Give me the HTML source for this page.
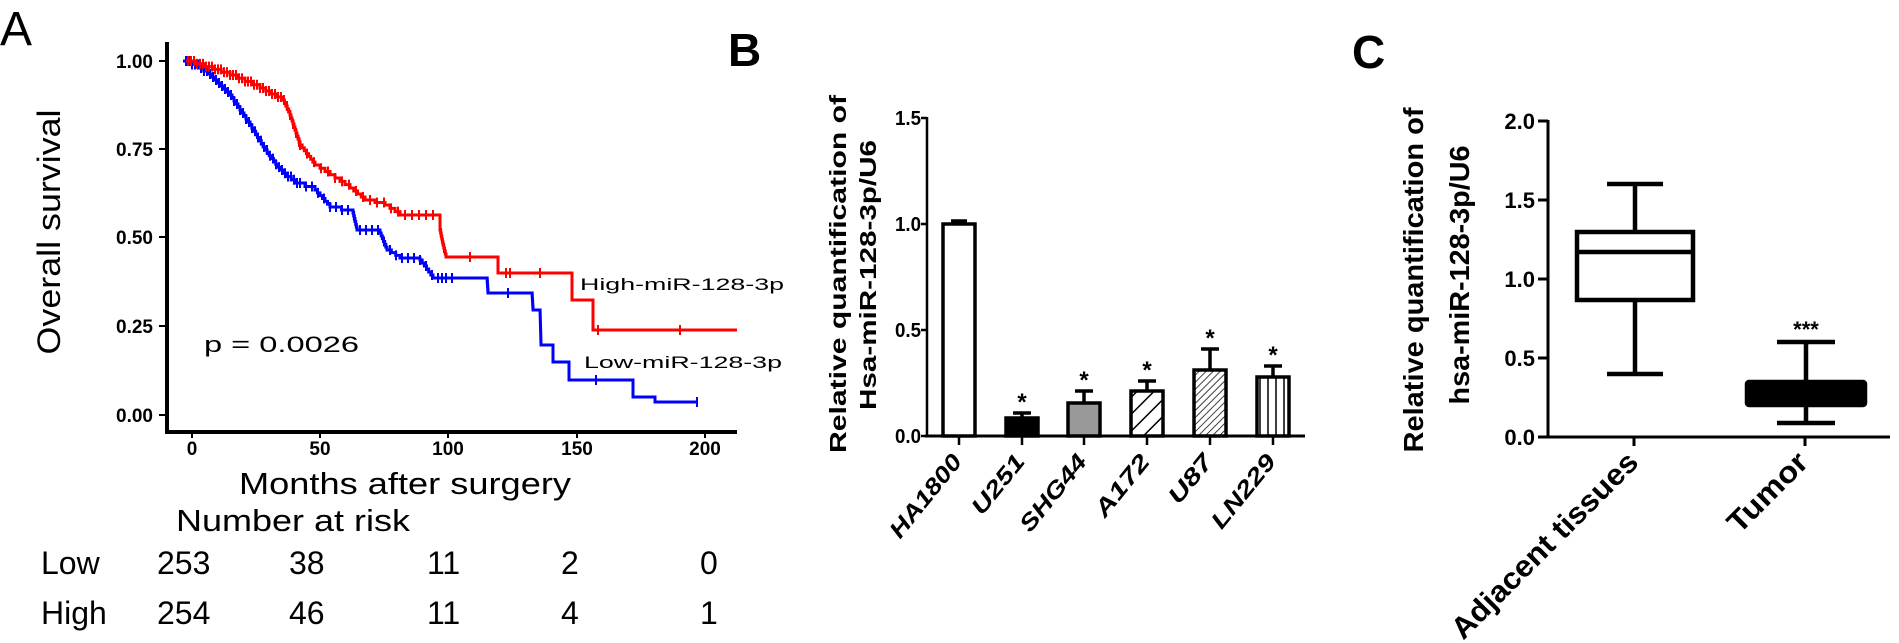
<!DOCTYPE html>
<html><head><meta charset="utf-8"><style>
html,body{margin:0;padding:0;background:#fff;}
svg{display:block;font-family:"Liberation Sans",Arial,sans-serif;}
</style></head><body>
<svg id="s" width="1899" height="643" viewBox="0 0 1899 643" xmlns="http://www.w3.org/2000/svg">
<defs>
<pattern id="h1" patternUnits="userSpaceOnUse" width="12" height="12" patternTransform="rotate(45)"><rect width="12" height="12" fill="#fff"/><line x1="0" y1="0" x2="0" y2="12" stroke="#000" stroke-width="3"/></pattern>
<pattern id="h2" patternUnits="userSpaceOnUse" width="5" height="5" patternTransform="rotate(45)"><rect width="5" height="5" fill="#fff"/><line x1="0" y1="0" x2="0" y2="5" stroke="#000" stroke-width="1.5"/></pattern>
<pattern id="h3" patternUnits="userSpaceOnUse" width="8" height="8"><rect width="8" height="8" fill="#fff"/><line x1="4" y1="0" x2="4" y2="8" stroke="#000" stroke-width="1.5"/></pattern>
</defs>
<rect width="1899" height="643" fill="#fff"/>
<!-- Panel A -->
<text x="0" y="45" font-size="48">A</text>
<text transform="translate(60,232) rotate(-90)" text-anchor="middle" font-size="32" textLength="245" lengthAdjust="spacingAndGlyphs">Overall survival</text>
<g font-size="19" font-weight="bold" text-anchor="end">
<text x="153" y="68">1.00</text><text x="153" y="156">0.75</text><text x="153" y="244">0.50</text><text x="153" y="333">0.25</text><text x="153" y="422">0.00</text>
</g>
<g stroke="#000" stroke-width="2">
<line x1="159" y1="61" x2="167" y2="61"/><line x1="159" y1="149" x2="167" y2="149"/><line x1="159" y1="237" x2="167" y2="237"/><line x1="159" y1="326" x2="167" y2="326"/><line x1="159" y1="415" x2="167" y2="415"/>
<line x1="192" y1="432" x2="192" y2="438"/><line x1="320" y1="432" x2="320" y2="438"/><line x1="448" y1="432" x2="448" y2="438"/><line x1="577" y1="432" x2="577" y2="438"/><line x1="705" y1="432" x2="705" y2="438"/>
</g>
<line x1="167" y1="42" x2="167" y2="434" stroke="#000" stroke-width="4"/>
<line x1="165" y1="432" x2="737" y2="432" stroke="#000" stroke-width="4"/>
<g font-size="19" font-weight="bold" text-anchor="middle">
<text x="192" y="455">0</text><text x="320" y="455">50</text><text x="448" y="455">100</text><text x="577" y="455">150</text><text x="705" y="455">200</text>
</g>
<g id="km" fill="none" stroke-width="3"></g>
<text x="204" y="352" font-size="22" textLength="155" lengthAdjust="spacingAndGlyphs">p = 0.0026</text>
<text x="580" y="290" font-size="17" textLength="204" lengthAdjust="spacingAndGlyphs">High-miR-128-3p</text>
<text x="584" y="368" font-size="17" textLength="198" lengthAdjust="spacingAndGlyphs">Low-miR-128-3p</text>
<text x="239" y="494" font-size="31" textLength="332" lengthAdjust="spacingAndGlyphs">Months after surgery</text>
<text x="176" y="531" font-size="31" textLength="234" lengthAdjust="spacingAndGlyphs">Number at risk</text>
<g font-size="32">
<text x="41" y="574">Low</text><text x="157" y="574">253</text><text x="289" y="574">38</text><text x="427" y="574">11</text><text x="561" y="574">2</text><text x="700" y="574">0</text>
<text x="41" y="624">High</text><text x="157" y="624">254</text><text x="289" y="624">46</text><text x="427" y="624">11</text><text x="561" y="624">4</text><text x="700" y="624">1</text>
</g>
<!-- Panel B -->
<text x="728" y="66" font-size="46" font-weight="bold">B</text>
<g font-weight="bold" font-size="23">
<text transform="translate(846,274) rotate(-90)" text-anchor="middle" textLength="358" lengthAdjust="spacingAndGlyphs">Relative quantification of</text>
<text transform="translate(876,275) rotate(-90)" text-anchor="middle" textLength="270" lengthAdjust="spacingAndGlyphs">Hsa-miR-128-3p/U6</text>
</g>
<g font-size="20" font-weight="bold" text-anchor="end">
<text x="921" y="125" textLength="26" lengthAdjust="spacingAndGlyphs">1.5</text><text x="921" y="231" textLength="26" lengthAdjust="spacingAndGlyphs">1.0</text><text x="921" y="337" textLength="26" lengthAdjust="spacingAndGlyphs">0.5</text><text x="921" y="443" textLength="26" lengthAdjust="spacingAndGlyphs">0.0</text>
</g>
<g stroke="#000" stroke-width="2.5" fill="none">
<line x1="927" y1="117" x2="927" y2="437"/>
<line x1="921" y1="118" x2="927" y2="118"/><line x1="921" y1="224" x2="927" y2="224"/><line x1="921" y1="330" x2="927" y2="330"/><line x1="921" y1="436" x2="927" y2="436"/>
<line x1="925" y1="436" x2="1305" y2="436" stroke-width="3"/>
<line x1="959" y1="436" x2="959" y2="445"/><line x1="1022" y1="436" x2="1022" y2="445"/><line x1="1084" y1="436" x2="1084" y2="445"/><line x1="1147" y1="436" x2="1147" y2="445"/><line x1="1210" y1="436" x2="1210" y2="445"/><line x1="1273" y1="436" x2="1273" y2="445"/>
</g>
<g stroke="#000" stroke-width="3.5">
<line x1="959" y1="224" x2="959" y2="221"/><line x1="951" y1="221" x2="967" y2="221"/>
<line x1="1022" y1="418" x2="1022" y2="413"/><line x1="1013" y1="413" x2="1031" y2="413"/>
<line x1="1084" y1="403" x2="1084" y2="391"/><line x1="1075" y1="391" x2="1093" y2="391"/>
<line x1="1147" y1="391" x2="1147" y2="381"/><line x1="1138" y1="381" x2="1156" y2="381"/>
<line x1="1210" y1="370" x2="1210" y2="349"/><line x1="1201" y1="349" x2="1219" y2="349"/>
<line x1="1273" y1="377" x2="1273" y2="366"/><line x1="1264" y1="366" x2="1282" y2="366"/>
<rect x="943" y="224" width="32" height="212" fill="#fff"/>
<rect x="1006" y="418" width="32" height="18" fill="#000"/>
<rect x="1068" y="403" width="32" height="33" fill="#999"/>
<rect x="1131" y="391" width="32" height="45" fill="url(#h1)"/>
<rect x="1194" y="370" width="32" height="66" fill="url(#h2)"/>
<rect x="1257" y="377" width="32" height="59" fill="url(#h3)"/>
</g>
<g font-size="24" font-weight="bold" text-anchor="middle">
<text x="1022" y="410">*</text><text x="1084" y="388">*</text><text x="1147" y="378">*</text><text x="1210" y="346">*</text><text x="1273" y="363">*</text>
</g>
<g font-size="23" font-weight="bold" font-style="italic" text-anchor="end">
<text transform="translate(963,462) rotate(-51)" textLength="100" lengthAdjust="spacingAndGlyphs">HA1800</text>
<text transform="translate(1026,462) rotate(-51)" textLength="70" lengthAdjust="spacingAndGlyphs">U251</text>
<text transform="translate(1088,462) rotate(-51)" textLength="92" lengthAdjust="spacingAndGlyphs">SHG44</text>
<text transform="translate(1151,462) rotate(-51)" textLength="73" lengthAdjust="spacingAndGlyphs">A172</text>
<text transform="translate(1214,462) rotate(-51)" textLength="56" lengthAdjust="spacingAndGlyphs">U87</text>
<text transform="translate(1277,462) rotate(-51)" textLength="88" lengthAdjust="spacingAndGlyphs">LN229</text>
</g>
<!-- Panel C -->
<text x="1352" y="68" font-size="46" font-weight="bold">C</text>
<g font-weight="bold" font-size="28">
<text transform="translate(1423,280) rotate(-90)" text-anchor="middle" textLength="345" lengthAdjust="spacingAndGlyphs">Relative quantification of</text>
<text transform="translate(1469,275) rotate(-90)" text-anchor="middle" textLength="259" lengthAdjust="spacingAndGlyphs">hsa-miR-128-3p/U6</text>
</g>
<g font-size="22" font-weight="bold" text-anchor="end">
<text x="1535" y="129">2.0</text><text x="1535" y="208">1.5</text><text x="1535" y="287">1.0</text><text x="1535" y="366">0.5</text><text x="1535" y="445">0.0</text>
</g>
<g stroke="#000" stroke-width="3" fill="none">
<line x1="1548" y1="120" x2="1548" y2="438"/>
<line x1="1538" y1="121" x2="1548" y2="121"/><line x1="1538" y1="200" x2="1548" y2="200"/><line x1="1538" y1="279" x2="1548" y2="279"/><line x1="1538" y1="358" x2="1548" y2="358"/><line x1="1538" y1="437" x2="1548" y2="437"/>
<line x1="1546" y1="437" x2="1890" y2="437"/>
<line x1="1634" y1="437" x2="1634" y2="446"/><line x1="1805" y1="437" x2="1805" y2="446"/>
</g>
<g stroke="#000" stroke-width="4.5" fill="none">
<line x1="1635" y1="184" x2="1635" y2="232"/><line x1="1607" y1="184" x2="1663" y2="184"/>
<line x1="1635" y1="300" x2="1635" y2="374"/><line x1="1607" y1="374" x2="1663" y2="374"/>
<rect x="1577" y="232" width="116" height="68" fill="#fff"/>
<line x1="1577" y1="252" x2="1693" y2="252"/>
<line x1="1806" y1="342" x2="1806" y2="423"/><line x1="1777" y1="342" x2="1835" y2="342"/><line x1="1777" y1="423" x2="1835" y2="423"/>
<rect x="1747" y="382" width="118" height="23" fill="#000" rx="2"/>
</g>
<text x="1806" y="337" font-size="22" font-weight="bold" text-anchor="middle">***</text>
<g font-size="30" font-weight="bold" text-anchor="end">
<text transform="translate(1640,464) rotate(-45)" textLength="250" lengthAdjust="spacingAndGlyphs">Adjacent tissues</text>
<text transform="translate(1810,464) rotate(-45)" textLength="100" lengthAdjust="spacingAndGlyphs">Tumor</text>
</g>
</svg>
<script>
(function(){
var NS="http://www.w3.org/2000/svg",g=document.getElementById("km");
function build(k){var pts=[k[0]];for(var i=1;i<k.length;i++){var a=k[i-1],b=k[i];var dx=b[0]-a[0],dy=b[1]-a[1];
 if(dx!==0&&dy!==0){var n=Math.max(1,Math.round(Math.abs(dy)/3));for(var j=1;j<=n;j++){var x=a[0]+dx*j/n,yp=pts[pts.length-1][1];pts.push([x,yp]);pts.push([x,a[1]+dy*j/n]);}}
 else pts.push(b);}return pts;}
function yAt(p,x){var y=p[0][1];for(var i=0;i<p.length;i++){if(p[i][0]<=x)y=p[i][1];}return y;}
function draw(k,col,ticks){var p=build(k);var d="M"+p.map(function(q){return q[0]+","+q[1]}).join(" L");
 var e=document.createElementNS(NS,"path");e.setAttribute("d",d);e.setAttribute("stroke",col);g.appendChild(e);
 ticks.forEach(function(x){var y=yAt(p,x);var l=document.createElementNS(NS,"line");l.setAttribute("x1",x);l.setAttribute("x2",x);l.setAttribute("y1",y-5);l.setAttribute("y2",y+5);l.setAttribute("stroke",col);l.setAttribute("stroke-width","2");g.appendChild(l);});}
var red=[[186,61],[230,75],[260,88],[283,100],[290,115],[300,145],[315,165],[335,178],[350,188],[365,200],[385,205],[400,215],[440,215],[440,230],[443,245],[446,257],[498,257],[498,273],[572,273],[572,300],[593,300],[593,330],[737,330]];
var blue=[[183,61],[200,68],[215,80],[230,95],[250,125],[265,150],[280,170],[295,183],[315,190],[330,207],[353,213],[357,230],[380,233],[387,250],[400,258],[420,260],[433,278],[487,278],[488,293],[532,293],[533,310],[540,310],[541,345],[553,345],[553,362],[569,362],[569,380],[633,380],[633,397],[655,397],[655,402],[697,402]];
var rt=[],bt=[];for(var x=188;x<300;x+=3)rt.push(x);for(x=300;x<440;x+=7)rt.push(x);rt=rt.concat([441,444,470,506,510,540,598,680]);
for(x=186;x<300;x+=3)bt.push(x);for(x=300;x<440;x+=6)bt.push(x);bt=bt.concat([442,446,452,508,596,697]);
draw(blue,"#0000ff",bt);draw(red,"#ff0000",rt);
})();
</script>
</body></html>
